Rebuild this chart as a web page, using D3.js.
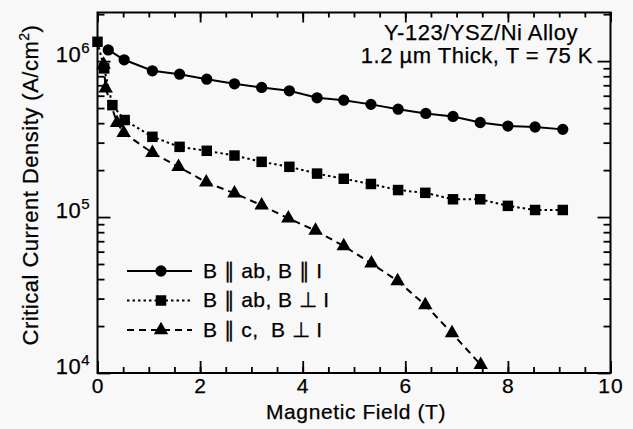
<!DOCTYPE html>
<html>
<head>
<meta charset="utf-8">
<script src="https://cdn.jsdelivr.net/npm/d3@7"></script>
<style>
  body { margin: 0; background: #f8f8f8; }
  text { font-family: "Liberation Sans", Arial, Helvetica, sans-serif; fill: #000; stroke: #000; stroke-width: 0.25px; }
</style>
</head>
<body>
<div id="chart"></div>
<script>
// B || ab, B || I  (circles, solid)
var parField = [0.21, 0.52, 1.07, 1.6, 2.13, 2.67, 3.2, 3.74, 4.28, 4.8, 5.33, 5.86, 6.4, 6.93, 7.46, 8.0, 8.53, 9.07];
var parJc = [1.18e6, 1.02e6, 8.67e5, 8.25e5, 7.66e5, 7.15e5, 6.78e5, 6.45e5, 5.82e5, 5.62e5, 5.28e5, 4.92e5, 4.62e5, 4.42e5, 4.04e5, 3.83e5, 3.78e5, 3.65e5];

// B || ab, B perp I  (squares, dotted)
var perpField = [0.0, 0.13, 0.29, 0.53, 1.07, 1.6, 2.13, 2.67, 3.2, 3.74, 4.28, 4.8, 5.33, 5.86, 6.39, 6.93, 7.46, 8.0, 8.53, 9.07];
var perpJc = [1.33e6, 8.98e5, 5.22e5, 4.19e5, 3.27e5, 2.82e5, 2.66e5, 2.48e5, 2.26e5, 2.10e5, 1.90e5, 1.76e5, 1.63e5, 1.49e5, 1.43e5, 1.30e5, 1.30e5, 1.18e5, 1.11e5, 1.11e5];

// B || c, B perp I  (triangles, dashed)
var cField = [0.12, 0.16, 0.38, 0.51, 1.07, 1.58, 2.12, 2.67, 3.2, 3.72, 4.25, 4.8, 5.34, 5.85, 6.39, 6.91, 7.47];
var cJc = [9.5e5, 6.68e5, 4.02e5, 3.47e5, 2.58e5, 2.10e5, 1.67e5, 1.42e5, 1.19e5, 9.81e4, 8.19e4, 6.52e4, 5.05e4, 3.89e4, 2.73e4, 1.80e4, 1.13e4];

var xMajorTicks = [0, 2, 4, 6, 8, 10];
var xMinorTicks = d3.range(0, 10.01, 0.5);
var yMajorTicks = [1e4, 1e5, 1e6];
var yExponents = ["4", "5", "6"];
var legendLabels = ["B \u2225 ab, B \u2225 I", "B \u2225 ab, B \u22A5 I", "B \u2225 c,  B \u22A5 I"];
var noteLines = ["Y-123/YSZ/Ni Alloy", "1.2 \u00B5m Thick, T = 75 K"];

(function(){
var W = 633, H = 429;
var pl = 97.5, pr = 610.5, pt = 12.5, pb = 373;

var svg = d3.select('#chart').append('svg')
  .attr('width', W)
  .attr('height', H);

svg.append('rect').attr('width', W).attr('height', H).attr('fill', '#f8f8f8');

var x = d3.scaleLinear().domain([0, 10]).range([pl, pr]);
var y = d3.scaleLog().domain([1e4, 2.05e6]).range([pb, pt]);

var yMinorTicks = [];
[1e4, 1e5, 1e6].forEach(function(d){
  for (var k = 2; k <= 9; k++) {
    if (d * k <= 2.05e6) yMinorTicks.push(d * k);
  }
});

// x axes, bottom and top, ticks inward
svg.append('g').attr('transform', 'translate(0,' + pb + ')')
  .call(d3.axisBottom(x).tickValues(xMinorTicks).tickSize(-6).tickFormat(''));
var gxbMaj = svg.append('g').attr('transform', 'translate(0,' + pb + ')')
  .call(d3.axisBottom(x).tickValues(xMajorTicks).tickSize(-12).tickPadding(5).tickFormat(d3.format('d')));
gxbMaj.selectAll('text')
  .attr('font-size', 21)
  .attr('font-family', null)
  .attr('letter-spacing', 1)
  .attr('fill', '#000');

svg.append('g').attr('transform', 'translate(0,' + pt + ')')
  .call(d3.axisTop(x).tickValues(xMinorTicks).tickSize(-5).tickFormat(''));
svg.append('g').attr('transform', 'translate(0,' + pt + ')')
  .call(d3.axisTop(x).tickValues(xMajorTicks).tickSize(-10).tickFormat(''));

// y axes, left and right
svg.append('g').attr('transform', 'translate(' + pl + ',0)')
  .call(d3.axisLeft(y).tickValues(yMinorTicks).tickSize(-7).tickFormat(''));
var gyl = svg.append('g').attr('transform', 'translate(' + pl + ',0)')
  .call(d3.axisLeft(y).tickValues(yMajorTicks).tickSize(-13).tickFormat(''));
svg.append('g').attr('transform', 'translate(' + pr + ',0)')
  .call(d3.axisRight(y).tickValues(yMinorTicks).tickSize(-7).tickFormat(''));
svg.append('g').attr('transform', 'translate(' + pr + ',0)')
  .call(d3.axisRight(y).tickValues(yMajorTicks).tickSize(-13).tickFormat(''));

svg.selectAll('.domain').remove();
svg.selectAll('.tick line').attr('stroke', '#000').attr('stroke-width', 1.8);

// power-of-ten labels
gyl.selectAll('.tick').each(function(d, i){
  var t = d3.select(this).append('text')
    .attr('x', -8)
    .attr('y', 0)
    .attr('text-anchor', 'end')
    .attr('font-size', 22);
  t.append('tspan').attr('letter-spacing', 0.5).text('10');
  t.append('tspan').attr('dy', -9).attr('font-size', 15).text(yExponents[i]);
});

// frame
svg.append('rect')
  .attr('x', pl).attr('y', pt)
  .attr('width', pr - pl).attr('height', pb - pt)
  .attr('fill', 'none').attr('stroke', '#000').attr('stroke-width', 2);

var series = [
  { xs: parField, ys: parJc, sym: d3.symbolCircle, size: 100, dash: null },
  { xs: perpField, ys: perpJc, sym: d3.symbolSquare, size: 110, dash: '2.5,3' },
  { xs: cField, ys: cJc, sym: d3.symbolTriangle, size: 90, dash: '7,5' }
];

var line = d3.line().x(function(d){ return x(d[0]); }).y(function(d){ return y(d[1]); });

series.forEach(function(s){
  var pts = d3.zip(s.xs, s.ys);
  svg.append('path')
    .datum(pts)
    .attr('d', line)
    .attr('fill', 'none')
    .attr('stroke', '#000')
    .attr('stroke-width', 2)
    .attr('stroke-dasharray', s.dash);
  svg.append('g').selectAll('path')
    .data(pts)
    .enter().append('path')
    .attr('transform', function(d){ return 'translate(' + x(d[0]) + ',' + y(d[1]) + ')'; })
    .attr('d', d3.symbol().type(s.sym).size(s.size))
    .attr('fill', '#000');
});

// legend
var legendY = [271, 300.5, 330];
var legend = svg.append('g');
series.forEach(function(s, i){
  legend.append('line')
    .attr('x1', 127).attr('x2', 192)
    .attr('y1', legendY[i]).attr('y2', legendY[i])
    .attr('stroke', '#000').attr('stroke-width', 2)
    .attr('stroke-dasharray', s.dash);
  legend.append('path')
    .attr('transform', 'translate(161,' + legendY[i] + ')')
    .attr('d', d3.symbol().type(s.sym).size(s.size))
    .attr('fill', '#000');
  legend.append('text')
    .attr('x', 203).attr('y', legendY[i] + 6.5)
    .attr('font-size', 21)
    .attr('letter-spacing', 0.4)
    .style('white-space', 'pre')
    .text(legendLabels[i]);
});

// note
svg.append('text').attr('x', 578).attr('y', 40).attr('text-anchor', 'end')
  .attr('font-size', 22).attr('letter-spacing', 0.5).text(noteLines[0]);
svg.append('text').attr('x', 593).attr('y', 63).attr('text-anchor', 'end')
  .attr('font-size', 22).attr('letter-spacing', 0.5).text(noteLines[1]);

// axis titles
svg.append('text')
  .attr('x', 356).attr('y', 419)
  .attr('text-anchor', 'middle')
  .attr('font-size', 21)
  .attr('letter-spacing', 0.6)
  .text('Magnetic Field (T)');

var yt = svg.append('text')
  .attr('transform', 'translate(38,185) rotate(-90)')
  .attr('text-anchor', 'middle')
  .attr('font-size', 22)
  .attr('letter-spacing', 0.5);
yt.append('tspan').text('Critical Current Density (A/cm');
yt.append('tspan').attr('dy', -9).attr('font-size', 14).text('2');
yt.append('tspan').attr('dy', 9).text(')');
})();
</script>
</body>
</html>
